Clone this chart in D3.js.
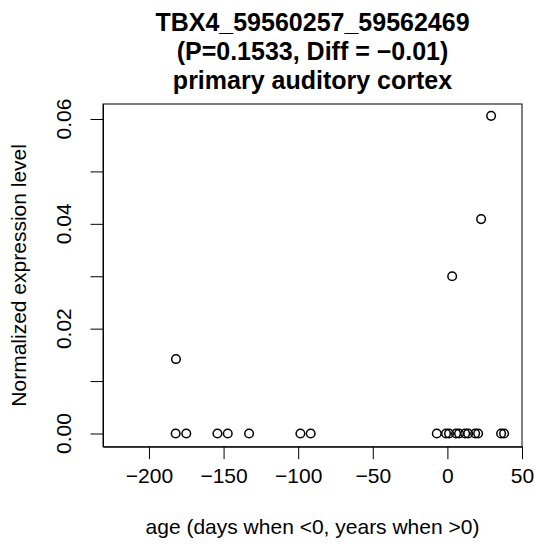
<!DOCTYPE html>
<html>
<head>
<meta charset="utf-8">
<script src="https://cdn.jsdelivr.net/npm/d3@7"></script>
<style>
  body { margin: 0; background: #fff; }
  svg text { font-family: "Liberation Sans", Arial, sans-serif; fill: #000; }
</style>
</head>
<body>
<div id="chart"></div>
<script>
// values
const titleLines = ["TBX4_59560257_59562469", "(P=0.1533, Diff = \u22120.01)", "primary auditory cortex"];
const ages = [-182.1, -175.0, -154.1, -147.2, -132.9, -98.5, -91.6,
              -7.1, -0.9, 1.1, 5.8, 7.8, 11.9, 13.9, 18.6, 20.6, 36.0, 38.0,
              -181.9, 3.2, 22.6, 29.3];
const levels = [0, 0, 0, 0, 0, 0, 0,
                0, 0, 0, 0, 0, 0, 0, 0, 0, 0, 0,
                0.0142, 0.0300, 0.0409, 0.0606];
const xTicks = [-200, -150, -100, -50, 0, 50];
const yTicks = [0, 0.01, 0.02, 0.03, 0.04, 0.05, 0.06];
const yLabelTicks = [0, 0.02, 0.04, 0.06];

const W = 536, H = 553;
const box = { left: 103, right: 522, top: 104, bottom: 446.7 };

const svg = d3.select("#chart").append("svg")
  .attr("width", W)
  .attr("height", H);

const x = d3.scaleLinear()
  .domain([-230.8, 50])
  .range([box.left, box.right]);

const y = d3.scaleLinear()
  .domain([-0.00252, 0.06286])
  .range([box.bottom, box.top]);

// x axis
svg.append("g")
  .attr("transform", `translate(0,${box.bottom})`)
  .call(d3.axisBottom(x).tickValues(xTicks).tickSizeInner(12.5).tickSizeOuter(0).tickPadding(9)
    .tickFormat(d => d < 0 ? "\u2212" + Math.abs(d) : d))
  .call(g => g.select(".domain").attr("stroke", "#000").attr("stroke-width", 1))
  .call(g => g.selectAll(".tick line").attr("stroke", "#000").attr("stroke-width", 1))
  .call(g => g.selectAll("text").style("font-size", "21px").attr("fill", "#000"));

// y axis, labels rotated like R
svg.append("g")
  .attr("transform", `translate(${box.left},0)`)
  .call(d3.axisLeft(y).tickValues(yTicks).tickSizeInner(12.5).tickSizeOuter(0).tickFormat(""))
  .call(g => g.select(".domain").attr("stroke", "#000").attr("stroke-width", 1))
  .call(g => g.selectAll(".tick line").attr("stroke", "#000").attr("stroke-width", 1));

svg.selectAll(".ylab")
  .data(yLabelTicks)
  .enter()
  .append("text")
  .attr("class", "ylab")
  .attr("transform", d => `translate(71,${y(d)}) rotate(-90)`)
  .attr("text-anchor", "middle")
  .style("font-size", "21px")
  .text(d => d3.format(".2f")(d));

// plot box
svg.append("rect")
  .attr("x", box.left)
  .attr("y", box.top)
  .attr("width", box.right - box.left)
  .attr("height", box.bottom - box.top)
  .attr("fill", "none")
  .attr("stroke", "#000")
  .attr("stroke-width", 1);

// points
svg.selectAll("circle")
  .data(ages.map((a, i) => ({ age: a, level: levels[i] })))
  .enter()
  .append("circle")
  .attr("cx", d => x(d.age))
  .attr("cy", d => y(d.level))
  .attr("r", 4.3)
  .attr("fill", "none")
  .attr("stroke", "#000")
  .attr("stroke-width", 1.5);

// titles
svg.selectAll(".title")
  .data(titleLines)
  .enter()
  .append("text")
  .attr("class", "title")
  .attr("x", (box.left + box.right) / 2)
  .attr("y", (d, i) => 30.5 + i * 29)
  .attr("text-anchor", "middle")
  .style("font-size", "25px")
  .style("font-weight", "bold")
  .text(d => d);

svg.append("text")
  .attr("x", (box.left + box.right) / 2)
  .attr("y", 534)
  .attr("text-anchor", "middle")
  .style("font-size", "21px")
  .text("age (days when <0, years when >0)");

svg.append("text")
  .attr("transform", `translate(26,${(box.top + box.bottom) / 2}) rotate(-90)`)
  .attr("text-anchor", "middle")
  .style("font-size", "21px")
  .text("Normalized expression level");
</script>
</body>
</html>
